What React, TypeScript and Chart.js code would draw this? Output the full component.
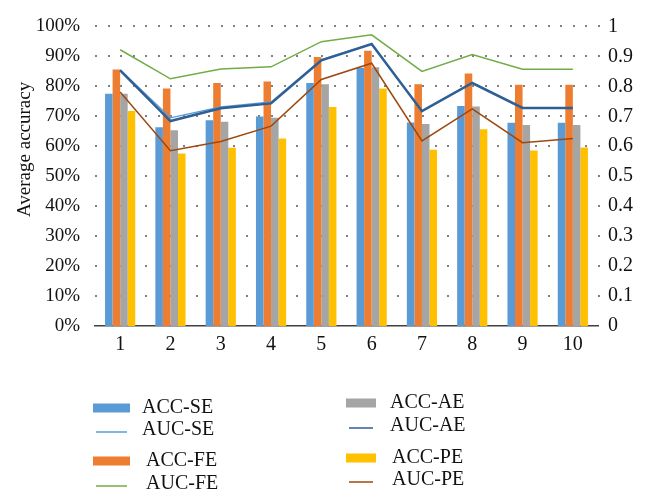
import React, { useEffect, useRef } from "react";
import { Chart, registerables } from "chart.js";

Chart.register(...registerables);

const categories = ["1", "2", "3", "4", "5", "6", "7", "8", "9", "10"];

const accSE = [0.775, 0.663, 0.687, 0.699, 0.811, 0.862, 0.679, 0.734, 0.678, 0.678];
const accFE = [0.856, 0.793, 0.811, 0.816, 0.898, 0.919, 0.807, 0.843, 0.805, 0.805];
const accAE = [0.775, 0.653, 0.682, 0.695, 0.807, 0.864, 0.674, 0.733, 0.671, 0.671];
const accPE = [0.718, 0.576, 0.595, 0.626, 0.731, 0.793, 0.588, 0.657, 0.586, 0.596];

const aucSE = [0.855, 0.695, 0.731, 0.748, 0.889, 0.941, 0.718, 0.812, 0.729, 0.729];
const aucFE = [0.922, 0.825, 0.858, 0.865, 0.949, 0.972, 0.85, 0.906, 0.857, 0.857];
const aucAE = [0.853, 0.684, 0.727, 0.743, 0.887, 0.941, 0.717, 0.811, 0.728, 0.728];
const aucPE = [0.781, 0.585, 0.616, 0.667, 0.823, 0.877, 0.618, 0.725, 0.612, 0.626];

const yTitle = "Average accuracy";

const FONT = "'Liberation Serif', 'Times New Roman', serif";

const C_BLUE = "#5B9BD5";
const C_ORANGE = "#ED7D31";
const C_GRAY = "#A5A5A5";
const C_YELLOW = "#FFC000";
const C_GREEN = "#70AD47";
const C_DBLUE = "#2E5F95";
const C_BROWN = "#9E480E";

type LegendItem = { label: string; kind: "box" | "line"; color: string; lw?: number };

const legendLeft: LegendItem[] = [
  { label: "ACC-SE", kind: "box", color: C_BLUE },
  { label: "AUC-SE", kind: "line", color: C_BLUE, lw: 1.5 },
  { label: "ACC-FE", kind: "box", color: C_ORANGE },
  { label: "AUC-FE", kind: "line", color: C_GREEN, lw: 1.5 },
];
const legendRight: LegendItem[] = [
  { label: "ACC-AE", kind: "box", color: C_GRAY },
  { label: "AUC-AE", kind: "line", color: C_DBLUE, lw: 1.5 },
  { label: "ACC-PE", kind: "box", color: C_YELLOW },
  { label: "AUC-PE", kind: "line", color: C_BROWN, lw: 1.5 },
];

const gridPlugin = {
  id: "dottedGrid",
  beforeDatasetsDraw(chart: any) {
    const { ctx, chartArea } = chart;
    const ys = chart.scales.y;
    const catW = (chartArea.right - chartArea.left) / categories.length;
    const step = catW / 4;
    ctx.save();
    ctx.fillStyle = "#808080";
    ys.ticks.forEach((t: any) => {
      if (t.value === 0) return;
      const y = Math.round(ys.getPixelForValue(t.value));
      for (let x = chartArea.left; x <= chartArea.right + 0.5; x += step) {
        ctx.fillRect(Math.round(x), y - 1, 2, 2);
      }
    });
    ctx.restore();
  },
};

const customPlugin = {
  id: "customDecor",
  afterDraw(chart: any) {
    const { ctx, chartArea } = chart;
    ctx.save();
    // y-axis title
    ctx.fillStyle = "#111";
    ctx.font = `19px ${FONT}`;
    ctx.textAlign = "center";
    ctx.textBaseline = "middle";
    ctx.translate(chartArea.left - 70, chartArea.top + 123);
    ctx.rotate(-Math.PI / 2);
    ctx.fillText(yTitle, 0, 0);
    ctx.restore();

    // legend, two columns
    ctx.save();
    ctx.font = `20px ${FONT}`;
    ctx.textAlign = "left";
    ctx.textBaseline = "middle";
    const base = chartArea.bottom;
    const leftYs = [82, 104, 135, 158];
    const rightYs = [77, 100, 132, 154];
    const drawCol = (items: LegendItem[], ys: number[], x0: number, boxW: number, textXs: number[]) => {
      items.forEach((it, i) => {
        const y = base + ys[i];
        if (it.kind === "box") {
          ctx.fillStyle = it.color;
          ctx.fillRect(x0, y - 4.5, boxW, 9);
        } else {
          ctx.strokeStyle = it.color;
          ctx.lineWidth = it.lw || 1.5;
          ctx.beginPath();
          ctx.moveTo(x0 + 3, y + 2);
          ctx.lineTo(x0 + boxW - 3, y + 2);
          ctx.stroke();
        }
        ctx.fillStyle = "#111";
        ctx.fillText(it.label, textXs[i], y);
      });
    };
    const L = chartArea.left;
    drawCol(legendLeft, leftYs, L - 2, 37, [L + 47, L + 47, L + 51, L + 51]);
    drawCol(legendRight, rightYs, L + 251, 30, [L + 295, L + 295, L + 297, L + 297]);
    ctx.restore();
  },
};

export default function App() {
  const ref = useRef<HTMLCanvasElement | null>(null);
  useEffect(() => {
    if (!ref.current) return;
    const bar = (label: string, data: number[], color: string) => ({
      type: "bar" as const,
      label,
      data,
      backgroundColor: color,
      borderWidth: 0,
      categoryPercentage: 0.6,
      barPercentage: 1.0,
      yAxisID: "y",
      order: 2,
    });
    const line = (label: string, data: number[], color: string, w: number) => ({
      type: "line" as const,
      label,
      data,
      borderColor: color,
      backgroundColor: color,
      borderWidth: w,
      pointRadius: 0,
      tension: 0,
      fill: false,
      yAxisID: "y1",
      order: 1,
    });
    const chart = new Chart(ref.current, {
      type: "bar",
      data: {
        labels: categories,
        datasets: [
          bar("ACC-SE", accSE, C_BLUE),
          bar("ACC-FE", accFE, C_ORANGE),
          bar("ACC-AE", accAE, C_GRAY),
          bar("ACC-PE", accPE, C_YELLOW),
          line("AUC-FE", aucFE, C_GREEN, 1.5),
          line("AUC-PE", aucPE, C_BROWN, 1.5),
          line("AUC-AE", aucAE, C_DBLUE, 2.5),
          line("AUC-SE", aucSE, C_BLUE, 1.3),
        ] as any,
      },
      options: {
        responsive: false,
        animation: false,
        layout: { padding: { top: 25, left: 0, right: 0, bottom: 0 } },
        plugins: {
          legend: { display: false },
          tooltip: { enabled: false },
          title: { display: false },
        },
        scales: {
          x: {
            grid: { display: false },
            border: { display: true, color: "#404040", width: 1.5 },
            ticks: { color: "#111", font: { family: FONT, size: 20 }, padding: -1 },
            afterFit: (s: any) => {
              s.height = 164;
            },
          },
          y: {
            position: "left",
            min: 0,
            max: 1,
            ticks: {
              stepSize: 0.1,
              color: "#111",
              font: { family: FONT, size: 19 },
              padding: 15,
              callback: (v: any) => Math.round(Number(v) * 100) + "%",
            },
            grid: { display: false, drawTicks: false },
            border: { display: false },
            afterFit: (s: any) => {
              s.width = 95;
            },
          },
          y1: {
            position: "right",
            min: 0,
            max: 1,
            ticks: {
              stepSize: 0.1,
              color: "#111",
              font: { family: FONT, size: 20 },
              padding: 10,
              callback: (v: any) => String(Number(Number(v).toFixed(1))),
            },
            grid: { display: false, drawTicks: false },
            border: { display: false },
            afterFit: (s: any) => {
              s.width = 50;
            },
          },
        },
      } as any,
      plugins: [gridPlugin, customPlugin],
    });
    return () => chart.destroy();
  }, []);
  return (
    <div style={{ position: "fixed", left: 0, top: 0, width: 648, height: 490, background: "#fff" }}>
      <canvas ref={ref} width={648} height={490} style={{ display: "block" }} />
    </div>
  );
}
